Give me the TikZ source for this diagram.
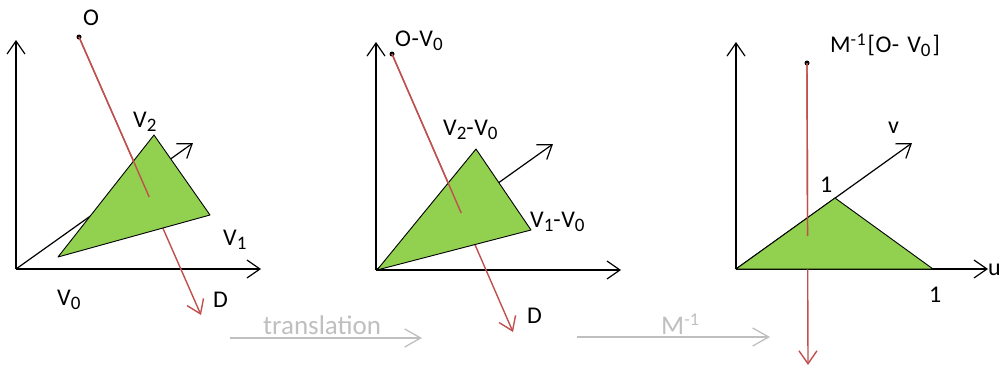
\documentclass[tikz,border=0pt]{standalone}
\usepackage{fontspec}
\setmainfont{Carlito}
\usetikzlibrary{arrows.meta,calc}
\definecolor{tgreen}{HTML}{92D050}
\definecolor{tred}{HTML}{C0504D}
\definecolor{tgray}{HTML}{BFBFBF}
\newcommand{\lsub}[1]{{\fontsize{19}{20}\selectfont\raisebox{-4pt}{#1}}}
\newcommand{\lsup}[1]{{\fontsize{18}{18}\selectfont\raisebox{7pt}{#1}}}
\newcommand{\gsup}[1]{{\fontsize{18}{20}\selectfont\raisebox{9pt}{#1}}}
\tikzset{
  axisline/.style={draw=black, line width=1.2pt, -{Straight Barb[length=13pt,width=18pt]}},
  tri/.style={fill=tgreen, draw=black, line width=0.9pt, line join=round},
  ray/.style={draw=tred, line width=1.4pt},
  rayarrow/.style={ray, -{Straight Barb[length=13pt,width=18pt]}},
  dotnode/.style={circle, fill=black, inner sep=0pt, minimum size=5pt},
  lbl/.style={font=\fontsize{24}{27}\selectfont\addfontfeature{LetterSpace=2}, text=black, inner sep=0pt, anchor=base west},
  glbl/.style={font=\fontsize{27}{30}\selectfont, text=tgray, inner sep=0pt, anchor=base west},
  garrow/.style={draw=tgray, line width=1.3pt, -{Straight Barb[length=16pt,width=18pt]}}
}
\begin{document}
\begin{tikzpicture}[x=1pt,y=-1pt]
\useasboundingbox (0,0) rectangle (1000,367);
% ---------- panel 1 ----------
\coordinate (P1o) at (16,269);
\coordinate (P1y) at (16,40);
\coordinate (P1x) at (261,269);
\coordinate (P1z) at (193,143);
\draw[axisline] (P1o) -- (P1y);
\draw[axisline] (P1o) -- (P1x);
\draw[axisline] (P1o) -- (P1z);
\node[dotnode] (O1) at (79,37) {};
\coordinate (D1) at (201,315);
\draw[rayarrow] (O1.center) -- (D1);
\coordinate (V10) at (58,257);
\coordinate (V11) at (210,215);
\coordinate (V12) at (154,135);
\filldraw[tri] (V10) -- (V11) -- (V12) -- cycle;
\draw[ray] (O1.center) -- ($(O1.center)!0.575!(D1)$);
\node[lbl] (lO1) at (83,25) {O};
\node[lbl] (lV2) at (133,127) {V\lsub{2}};
\node[lbl] (lV1) at (223,245) {V\lsub{1}};
\node[lbl] (lV0) at (57,305) {V\lsub{0}};
\node[lbl] (lD1) at (213,307) {D};
% ---------- panel 2 ----------
\coordinate (P2o) at (376,270);
\coordinate (P2y) at (376,42);
\coordinate (P2x) at (621,270);
\coordinate (P2z) at (553,144);
\draw[axisline] (P2o) -- (P2y);
\draw[axisline] (P2o) -- (P2x);
\draw[axisline] (P2o) -- (P2z);
\node[dotnode] (O2) at (392,54) {};
\coordinate (D2) at (513,332);
\draw[rayarrow] (O2.center) -- (D2);
\coordinate (W0) at (377,270);
\coordinate (W1) at (531,230);
\coordinate (W2) at (476,149);
\filldraw[tri] (W0) -- (W1) -- (W2) -- cycle;
\draw[ray] (O2.center) -- ($(O2.center)!0.572!(D2)$);
\node[lbl] (lO2) at (395,46) {O-V\lsub{0}};
\node[lbl] (lW2) at (443,135) {V\lsub{2}-V\lsub{0}};
\node[lbl] (lW1) at (530,227) {V\lsub{1}-V\lsub{0}};
\node[lbl] (lD2) at (527,323) {D};
% ---------- panel 3 ----------
\coordinate (P3o) at (736,269);
\coordinate (P3y) at (736,42);
\coordinate (P3x) at (988,269);
\coordinate (P3z) at (912,143);
\draw[axisline] (P3o) -- (P3y);
\draw[axisline] (P3o) -- (P3x);
\draw[axisline] (P3o) -- (P3z);
\node[dotnode] (O3) at (807,63) {};
\coordinate (D3) at (808,365);
\draw[rayarrow] (O3.center) -- (D3);
\coordinate (U0) at (736,269);
\coordinate (U1) at (933,269);
\coordinate (U2) at (835,198);
\filldraw[tri] (U0) -- (U1) -- (U2) -- cycle;
\draw[ray] (O3.center) -- ($(O3.center)!0.573!(D3)$);
\node[lbl] (lO3) at (830,52) {M\lsup{-1}\hspace{2pt}[O-\hspace{8pt}V\lsub{0}\hspace{2pt}]};
\node[lbl] (lv) at (888,133) {v};
\node[lbl] (lu) at (988,275) {u};
\node[lbl] (l1a) at (820,192) {1};
\node[lbl] (l1b) at (929,302) {1};
% ---------- transitions ----------
\coordinate (T1s) at (230,338);
\coordinate (T1e) at (422,338);
\draw[garrow] (T1s) -- (T1e);
\node[glbl] (lT1) at (263,334) {translation};
\coordinate (T2s) at (577,337);
\coordinate (T2e) at (770,337);
\draw[garrow] (T2s) -- (T2e);
\node[glbl] (lT2) at (661,334) {M\gsup{-1}};
\end{tikzpicture}
\end{document}
